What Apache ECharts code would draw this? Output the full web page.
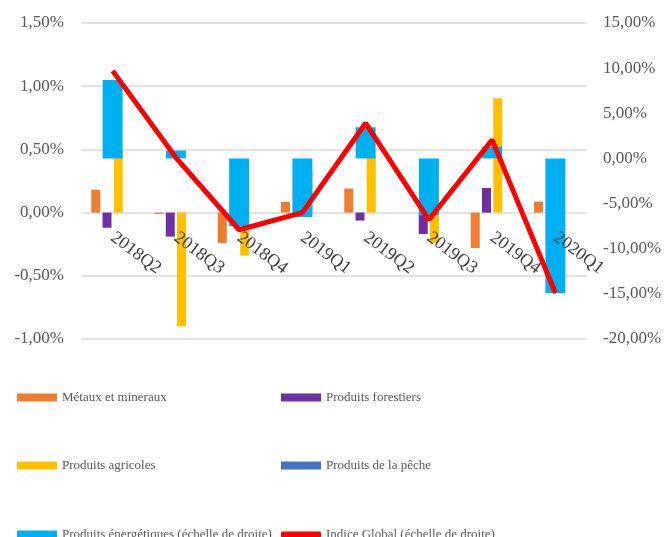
<!DOCTYPE html>
<html><head><meta charset="utf-8">
<script src="https://cdn.jsdelivr.net/npm/echarts@6/dist/echarts.min.js"></script>
<style>html,body{margin:0;padding:0;background:#fff}#c{width:665px;height:537px}</style>
</head><body><div id="c"></div>
<script>
const categories = ['2018Q2','2018Q3','2018Q4','2019Q1','2019Q2','2019Q3','2019Q4','2020Q1'];
const metaux      = [0.18, -0.01, -0.24, 0.085, 0.19, 0.0, -0.28, 0.087];
const forestiers  = [-0.12, -0.19, -0.08, -0.02, -0.063, -0.17, 0.195, 0.0];
const agricoles   = [0.50, -0.90, -0.34, 0.34, 0.45, -0.24, 0.905, 0.0];
const peche       = [0, 0, 0, 0, 0, 0, 0, 0];
const energetiques = [8.68, 0.87, -7.5, -6.5, 3.45, -6.3, 1.3, -14.9];
const indiceGlobal = [9.7, 0.1, -7.9, -6.0, 3.9, -6.8, 2.05, -14.9];
const leftTicks = {min: -1, max: 1.5, interval: 0.5};
const rightTicks = {min: -20, max: 15, interval: 5};

const W = 665, H = 537;
const gridTop = 23, gridBottom = 198;
const gridH = H - gridTop - gridBottom;
// the category axis sits at the 0 of the left scale
const zeroOffset = -(0 - leftTicks.min) / (leftTicks.max - leftTicks.min) * gridH;

const fmt = v => v.toFixed(2).replace('.', ',') + '%';
const serif = 'Liberation Serif';
const legendText = {fontFamily: serif, fontSize: 13, color: '#595959'};
function leg(name, left, top, extra) {
  return Object.assign({data: [name], left: left, top: top, itemWidth: 40, itemHeight: 8,
    itemGap: 4, icon: 'rect', textStyle: legendText, selectedMode: false, padding: 0}, extra || {});
}
const chart = echarts.init(document.getElementById('c'), null, {renderer: 'canvas'});
chart.setOption({
  animation: false,
  backgroundColor: '#fff',
  grid: {left: 81, right: 78, top: gridTop, bottom: gridBottom},
  legend: [
    leg('Métaux et mineraux', 17, 391),
    leg('Produits forestiers', 281, 391),
    leg('Produits agricoles', 17, 459),
    leg('Produits de la pêche', 281, 459),
    leg('Produits énergétiques (échelle de droite)', 17, 528),
    leg('Indice Global (échelle de droite)', 281, 528, {icon: 'roundRect', itemHeight: 6})
  ],
  xAxis: [
    {type: 'category', data: categories, position: 'bottom', offset: zeroOffset, z: 10,
     axisLine: {show: false, onZero: false},
     axisTick: {show: false},
     axisLabel: {rotate: -37, margin: 23, fontFamily: serif, fontSize: 18, color: '#404040'}},
    {type: 'category', data: categories, show: false}
  ],
  yAxis: [
    {type: 'value', min: leftTicks.min, max: leftTicks.max, interval: leftTicks.interval,
     axisLine: {show: false}, axisTick: {show: false},
     splitLine: {lineStyle: {color: '#D9D9D9', width: 1.5}},
     axisLabel: {formatter: fmt, margin: 17, fontFamily: serif, fontSize: 17, color: '#595959'}},
    {type: 'value', min: rightTicks.min, max: rightTicks.max, interval: rightTicks.interval,
     position: 'right', axisLine: {show: false}, axisTick: {show: false}, splitLine: {show: false},
     axisLabel: {formatter: fmt, margin: 16, fontFamily: serif, fontSize: 17, color: '#595959'}}
  ],
  series: [
    {name: 'Métaux et mineraux', type: 'bar', data: metaux, barWidth: 9, barGap: '25%', itemStyle: {color: '#ED7D31'}},
    {name: 'Produits forestiers', type: 'bar', data: forestiers, barWidth: 9, barGap: '25%', itemStyle: {color: '#7030A0'}},
    {name: 'Produits agricoles', type: 'bar', data: agricoles, barWidth: 9, barGap: '25%', itemStyle: {color: '#FFC000'}},
    {name: 'Produits de la pêche', type: 'bar', data: peche, barWidth: 9, barGap: '25%', itemStyle: {color: '#4472C4'}},
    {name: 'Produits énergétiques (échelle de droite)', type: 'bar', data: energetiques, xAxisIndex: 1, yAxisIndex: 1,
     barWidth: 20, itemStyle: {color: '#00B0F0'}},
    {name: 'Indice Global (échelle de droite)', type: 'line', data: indiceGlobal, yAxisIndex: 1, z: 20,
     symbol: 'none', lineStyle: {color: '#FF0000', width: 5}, itemStyle: {color: '#FF0000'}}
  ]
});
</script></body></html>
